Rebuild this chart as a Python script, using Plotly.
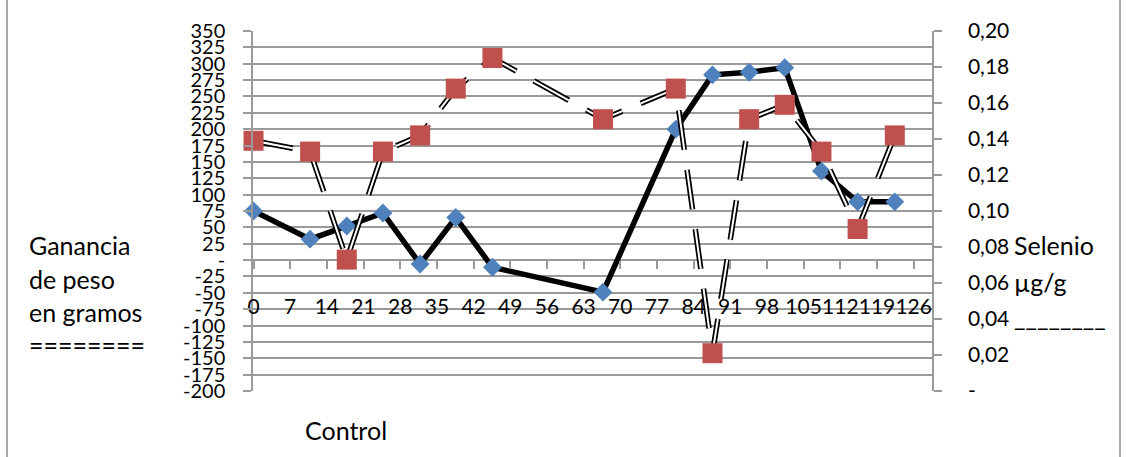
import plotly.graph_objects as go

# ---- data ----
dias = [0, 10.8, 17.8, 24.7, 31.8, 38.6, 45.6, 66.7, 80.6, 87.6, 94.6, 101.4, 108.4, 115.3, 122.4]
ganancia = [75, 32, 52, 72, -6, 65, -11, -49, 200, 283, 287, 294, 136, 89, 89]
selenio = [0.139, 0.133, 0.073, 0.133, 0.142, 0.168, 0.185, 0.151, 0.168, 0.021, 0.151, 0.159, 0.133, 0.090, 0.142]

x_ticks = list(range(0, 127, 7))
x_labels = [str(v) for v in x_ticks]
left_ticks = list(range(-200, 351, 25))
left_labels = ["-" if v == 0 else str(v) for v in left_ticks]
right_ticks = [0, 0.02, 0.04, 0.06, 0.08, 0.10, 0.12, 0.14, 0.16, 0.18, 0.20]
right_labels = ["-", "0,02", "0,04", "0,06", "0,08", "0,10", "0,12", "0,14", "0,16", "0,18", "0,20"]

FONT = "Lato, Open Sans, sans-serif"
GRID = "#9a9a9a"
W, H = 1126, 457
L, R, T, B = 253, 194, 31, 66
PW, PH = W - L - R, H - T - B

def px(xp):
    return (xp - L) / PW

def py(yp):
    return (H - B - yp) / PH

fig = go.Figure()

# Selenio (secondary axis): double dashed line
fig.add_trace(go.Scatter(x=dias, y=selenio, xaxis="x", yaxis="y2", mode="lines",
                         line=dict(color="black", width=5.5, dash="40px,20px"),
                         cliponaxis=False, hoverinfo="skip", showlegend=False))
fig.add_trace(go.Scatter(x=dias, y=selenio, xaxis="x", yaxis="y2", mode="lines",
                         line=dict(color="white", width=2, dash="40px,20px"),
                         cliponaxis=False, hoverinfo="skip", showlegend=False))
fig.add_trace(go.Scatter(x=dias, y=selenio, xaxis="x", yaxis="y2", mode="markers",
                         marker=dict(symbol="square", size=20, color="#C0504D",
                                     line=dict(width=0)),
                         cliponaxis=False, name="Selenio", showlegend=False))
# Ganancia de peso (primary axis)
fig.add_trace(go.Scatter(x=dias, y=ganancia, xaxis="x", yaxis="y", mode="lines+markers",
                         line=dict(color="black", width=5.5),
                         marker=dict(symbol="diamond", size=14.5, color="#4F81BD",
                                     line=dict(width=0)),
                         cliponaxis=False, name="Ganancia", showlegend=False))
# dummy trace so the tick-mark axis is drawn
fig.add_trace(go.Scatter(x=[None], y=[None], xaxis="x2", yaxis="y", mode="markers",
                         showlegend=False, hoverinfo="skip"))

xr = [-0.1, 129.5]
zero_pos = 200 / 550

fig.update_layout(
    width=W, height=H,
    margin=dict(l=L, r=R, t=T, b=B, autoexpand=False),
    paper_bgcolor="white", plot_bgcolor="white",
    font=dict(family=FONT, size=20, color="black"),
    showlegend=False,
    xaxis=dict(range=xr, tickvals=x_ticks, ticktext=x_labels, anchor="free",
               position=py(292), showgrid=False, zeroline=False, showline=False,
               ticks="", tickangle=0, automargin=False,
               tickfont=dict(size=21, family=FONT)),
    xaxis2=dict(range=xr, overlaying="x", anchor="free", position=zero_pos,
                tickvals=x_ticks, ticks="outside", ticklen=8, tickwidth=1.5,
                tickcolor=GRID, showticklabels=False, showgrid=False,
                zeroline=False, showline=False, automargin=False),
    yaxis=dict(range=[-200, 350], tickvals=left_ticks, ticktext=left_labels,
               showgrid=True, gridcolor=GRID, gridwidth=1.5,
               zeroline=True, zerolinecolor=GRID, zerolinewidth=1.5,
               showline=True, linecolor=GRID, linewidth=1.5,
               ticks="outside", ticklen=8, tickwidth=1.5, tickcolor=GRID,
               ticklabelstandoff=14, automargin=False,
               tickfont=dict(size=20, family=FONT)),
    yaxis2=dict(range=[0, 0.2], tickvals=right_ticks, ticktext=right_labels,
                overlaying="y", side="right", anchor="x",
                showgrid=False, zeroline=False,
                showline=True, linecolor=GRID, linewidth=1.5,
                ticks="outside", ticklen=8, tickwidth=1.5, tickcolor=GRID,
                ticklabelstandoff=22, automargin=False,
                tickfont=dict(size=21, family=FONT)),
)

ann = [
    ("Ganancia", 27, 245),
    ("de peso", 27, 279),
    ("en gramos", 27, 312),
    ("========", 27, 345),
    ("Selenio", 1012, 245),
    ("µg/g", 1012, 282),
    ("________", 1012, 316),
    ("Control", 303, 430),
]
for text, x, y in ann:
    fig.add_annotation(text=text, x=px(x), y=py(y), xref="paper", yref="paper",
                       xanchor="left", yanchor="middle", showarrow=False,
                       font=dict(size=25, family=FONT, color="black"))

# chart border
for xb in (7, 1120):
    fig.add_shape(type="line", xref="paper", yref="paper",
                  x0=px(xb), x1=px(xb), y0=py(0), y1=py(H + 5),
                  line=dict(color="#8c8c8c", width=1.5))

fig.write_html("out.html", config={"displayModeBar": False},
               post_script="document.body.style.margin='0';document.body.style.overflow='hidden';")
